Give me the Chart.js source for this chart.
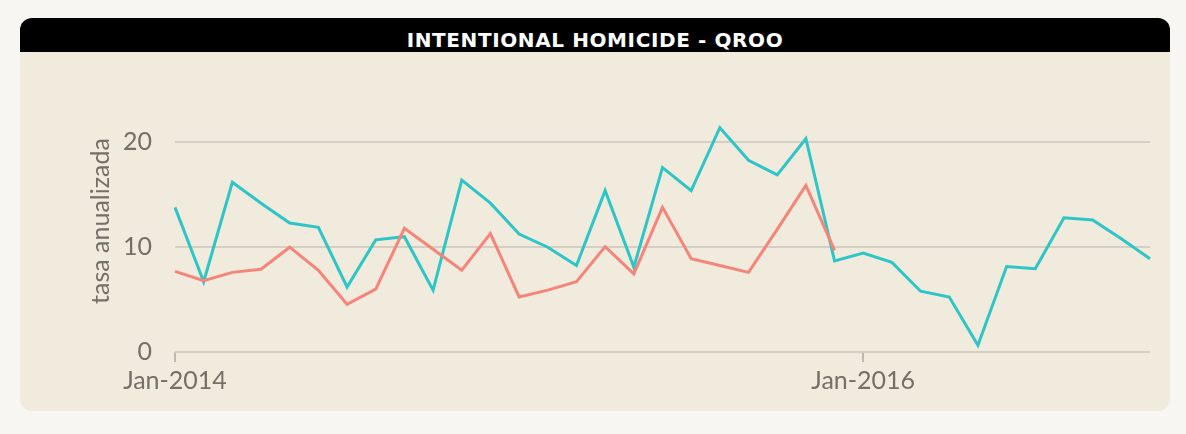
<!DOCTYPE html>
<html>
<head>
<meta charset="utf-8">
<script src="https://cdn.jsdelivr.net/npm/chart.js@4"></script>
<style>
  html, body { margin: 0; padding: 0; }
  body { width: 1186px; height: 434px; background: #f7f6f2; position: relative; overflow: hidden; }
  #card { position: absolute; left: 20px; top: 18px; width: 1150px; height: 393px; background: #f0ebdd; border-radius: 12px; overflow: hidden; }
  #head { height: 34px; background: #000; color: #fff; text-align: center; font-family: "DejaVu Sans", sans-serif; font-weight: 900; font-size: 20px; letter-spacing: 0.6px; line-height: 45px; }
  #wrap { position: absolute; left: 0; top: 34px; width: 1150px; height: 359px; }
</style>
</head>
<body>
<div id="card">
  <div id="head">INTENTIONAL HOMICIDE - QROO</div>
  <div id="wrap"><canvas id="c"></canvas></div>
</div>
<script>
const months = ["Jan-2014","Feb-2014","Mar-2014","Apr-2014","May-2014","Jun-2014","Jul-2014","Aug-2014","Sep-2014","Oct-2014","Nov-2014","Dec-2014",
  "Jan-2015","Feb-2015","Mar-2015","Apr-2015","May-2015","Jun-2015","Jul-2015","Aug-2015","Sep-2015","Oct-2015","Nov-2015","Dec-2015",
  "Jan-2016","Feb-2016","Mar-2016","Apr-2016","May-2016","Jun-2016","Jul-2016","Aug-2016","Sep-2016","Oct-2016","Nov-2016"];
const shownLabels = ["Jan-2014", "Jan-2016"];
const tealSeries = [13.8, 6.7, 16.2, 14.2, 12.3, 11.9, 6.2, 10.7, 11.0, 5.9, 16.4, 14.2,
  11.25, 10.0, 8.25, 15.4, 8.1, 17.6, 15.4, 21.4, 18.3, 16.9, 20.35, 8.7,
  9.45, 8.55, 5.8, 5.25, 0.65, 8.15, 7.95, 12.8, 12.6, 10.8, 8.9];
const redSeries = [7.7, 6.8, 7.6, 7.9, 10.0, 7.8, 4.55, 6.0, 11.8, 9.8, 7.8, 11.3,
  5.25, 5.9, 6.7, 10.05, 7.45, 13.8, 8.9, 8.25, 7.6, 11.7, 15.9, 9.7];
const yTicks = [0, 10, 20];

const gray = '#746f67';
new Chart(document.getElementById('c'), {
  type: 'line',
  data: {
    labels: months,
    datasets: [
      { data: redSeries, borderColor: '#f5857a', borderWidth: 3, pointRadius: 0, tension: 0, fill: false },
      { data: tealSeries, borderColor: '#2ec5c7', borderWidth: 3, pointRadius: 0, tension: 0, fill: false }
    ]
  },
  options: {
    responsive: true,
    maintainAspectRatio: false,
    animation: false,
    layout: { padding: { left: 60, right: 20, top: 36, bottom: 0 } },
    plugins: { legend: { display: false }, tooltip: { enabled: false } },
    scales: {
      x: {
        type: 'category',
        offset: false,
        border: { display: false },
        grid: {
          display: true,
          drawOnChartArea: false,
          drawTicks: true,
          tickLength: 10,
          lineWidth: 2,
          color: (ctx) => (shownLabels.includes(months[ctx.index]) ? '#bdb9b0' : 'rgba(0,0,0,0)')
        },
        ticks: {
          autoSkip: false,
          maxRotation: 0,
          minRotation: 0,
          padding: 4,
          color: gray,
          font: { family: 'Lato', size: 25 },
          callback: function (v, i) { return shownLabels.includes(months[i]) ? months[i] : ''; }
        },
        afterFit: (s) => { s.height = 59; }
      },
      y: {
        min: 0,
        max: 25,
        border: { display: false },
        grid: { color: '#d3cfc5', lineWidth: 2, drawTicks: false },
        ticks: { padding: 23, color: gray, font: { family: 'Lato', size: 25 } },
        afterBuildTicks: (s) => { s.ticks = yTicks.map(v => ({ value: v })); },
        title: { display: true, text: 'tasa anualizada', color: gray, font: { family: 'Lato', size: 25 }, padding: { top: 6, bottom: 0 } },
        afterFit: (s) => { s.width = 95; }
      }
    }
  }
});
</script>
</body>
</html>
